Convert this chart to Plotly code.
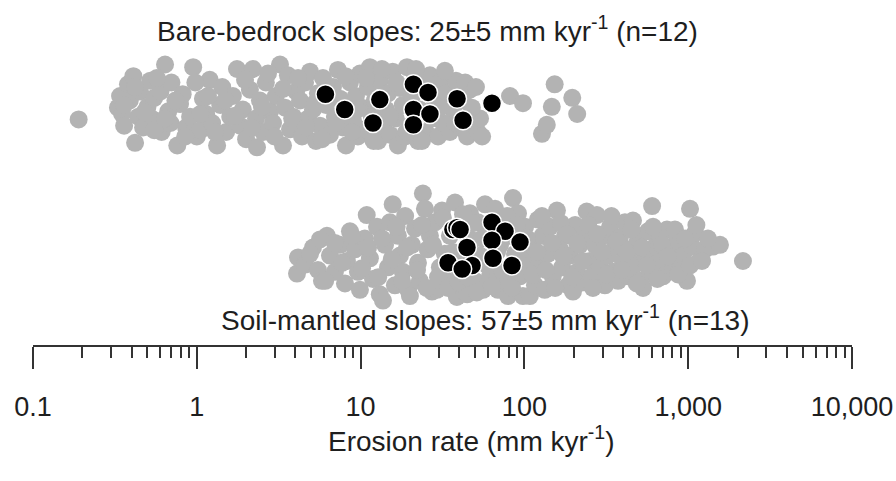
import plotly.graph_objects as go

# ---------------- data (erosion rates in mm/kyr, vertical jitter) ----------------
bare_grey_rate = [0.19, 0.33, 0.34, 0.35, 0.36, 0.38, 0.39, 0.41, 0.42, 0.44, 0.45, 0.47, 0.50, 0.52,
                  0.53, 0.55, 0.60, 0.61, 0.64, 0.67, 0.69, 0.70, 0.76, 0.79, 0.82, 0.86, 0.91, 0.95,
                  1.0, 1.05, 1.09, 1.14, 1.20, 1.24, 1.33, 1.39, 1.43, 1.51, 1.60, 1.66, 1.76, 1.84,
                  1.91, 2.0, 2.11, 2.2, 2.3, 2.33, 2.43, 2.54, 2.64, 2.80, 2.92, 3.04, 3.22, 3.36,
                  3.46, 3.6, 3.71, 3.87, 4.04, 4.27, 4.39, 4.58, 4.78, 4.91, 5.12, 5.34, 5.49, 5.65,
                  5.89, 6.15, 6.50, 6.78, 6.97, 7.27, 7.48, 7.8, 8.14, 8.37, 8.61, 8.98, 9.37, 9.63,
                  9.91, 10.2, 10.6, 11.1, 11.4, 11.7, 12.2, 12.8, 13.1, 13.7, 14.3, 14.7, 15.1, 15.7,
                  16.4, 16.9, 17.4, 18.1, 18.7, 19.2, 20.0, 20.6, 21.5, 22.4, 23.0, 24.0, 25.0, 26.5,
                  27.3, 28.4, 29.7, 30.5, 31.8, 33.6, 35.1, 36.6, 38.2, 40.5, 42.2, 44.7, 46.5, 49.2,
                  52.0, 53.6, 55.2, 81.7, 98, 128, 137, 147, 153, 196, 210,
                  0.36, 0.42, 0.48, 0.55, 0.57, 0.64, 0.74, 0.85, 0.98, 1.05, 1.17, 1.29, 1.49, 1.71,
                  1.97, 2.17, 2.50, 2.72, 2.98, 3.36, 3.82, 4.15, 4.64, 5.27, 5.81, 6.32, 7.07, 8.1,
                  8.86, 9.5, 10.8, 12.0, 13.5, 15.1, 16.6, 19.0, 21.8, 23.7, 30.5, 32.7, 37.7, 43.5,
                  47.8, 50.6]
bare_grey_jitter = [-16, -3, 10, -10, -23, 23, 5, 32, -42, -13, 15, -25, -2, 27,
                    -15, 8, 15, -30, 45, -7, -20, 25, -45, 1, 12, -25, -13, 42,
                    -35, -28, 7, -10, 28, -20, -45, 0, 20, -30, -13, 10, 40, -23,
                    -5, -38, 17, 40, -15, -47, 5, -30, 25, -7, -20, 10, 45, -45,
                    -3, 33, -27, -13, 15, 5, -35, 25, -15, 37, -5, -40, 13, -23,
                    30, 0, -33, 20, -13, 39, 7, -25, -45, -5, 25, -17, 10, -35,
                    35, -3, -27, 20, 42, -13, 5, -40, 27, -23, -5, 13, -33, 37,
                    -15, -45, 19, 0, -35, 42, -23, 10, 30, -40, -5, 17, -30, 33,
                    -15, 5, -35, 25, -20, 13, -30, -5, 27, -25, 5, -35, 17, -13,
                    -30, -15, -35, 10, 2, -32, -22, -2, 23, 8, -10,
                    0, 20, -8, -28, 30, -15, 5, -35, 25, -10, 10, -30, 5, -12,
                    28, -25, -2, 35, -35, 18, -15, 30, -25, 2, -38, 15, -20, 32,
                    -30, -5, 30, -40, 40, -12, 25, -30, 40, -40, -3, 38, -20, 25,
                    -3, 20]
bare_black_rate = [6.1, 8.0, 13.1, 11.9, 21, 25.8, 21, 26.5, 21, 38.8, 42.2, 63.4]
bare_black_jitter = [12, -5, 6, -20, 23, 14, -5, -10, -22, 7, -17, 2]

soil_grey_rate = [4.09, 4.15, 4.58, 5.12, 5.49, 5.81, 6.23, 6.50, 6.97, 7.48, 8.03, 8.25, 8.61, 9.24,
                  9.63, 9.91, 10.6, 10.9, 11.4, 11.9, 12.6, 13.1, 13.7, 14.1, 14.7, 15.1, 15.7, 16.2,
                  16.9, 17.4, 18.1, 18.7, 19.5, 20.0, 20.6, 21.5, 22.4, 23.0, 24.0, 24.7, 25.7, 26.5,
                  27.3, 28.4, 29.2, 30.5, 31.4, 32.7, 33.6, 35.1, 37.7, 38.7, 40.5, 41.7, 43.5, 44.7,
                  46.5, 47.8, 49.9, 52.0, 53.6, 55.9, 57.5, 60.0, 61.7, 66.2, 69.0, 71.0, 74.1, 76.2,
                  79.4, 81.7, 85.2, 87.7, 91.4, 94.0, 98.0, 101, 105, 108, 111, 116, 121, 124,
                  129, 133, 139, 143, 149, 158, 165, 170, 177, 185, 190, 198, 204, 210,
                  218, 224, 234, 240, 251, 258, 269, 277, 289, 301, 310, 323, 333, 347,
                  357, 373, 383, 399, 411, 429, 441, 460, 473, 493, 508, 530, 545, 568,
                  585, 602, 628, 655, 673, 702, 742, 774, 807, 854, 891, 929, 983, 1026,
                  1056, 1101, 1180, 1266, 1416, 1563, 2159,
                  4.91, 5.65, 6.08, 6.97, 7.7, 8.86, 10.2, 11.1, 12.8, 13.5, 15.5, 16.6, 17.9, 19.2,
                  22.1, 23.7, 25.3, 27.7, 29.7, 31.8, 34.2, 36.6, 39.4, 42.2, 45.2, 48.5, 51.2, 55.2,
                  59.4, 63.4, 68.0, 73.1, 78.4, 84.0, 89.7, 96.5, 104, 112, 119, 128, 135, 147,
                  154, 167, 173, 182, 196, 210, 227, 245, 262, 277, 297, 317, 340, 366,
                  394, 420, 450, 485, 522, 560, 610, 648, 692, 752, 830, 867, 957, 1026,
                  1122, 1214, 1320]
soil_grey_jitter = [-24, -6, -14, 5, -20, -32, 18, -4, -22, 8, -35, -10, 23, 3,
                    -22, -42, 15, 41, -7, -30, 28, -47, -54, 8, -17, 33, 53, -37,
                    18, -4, -22, 40, -42, -49, 8, 26, -12, -32, 65, 48, 3, 18,
                    -44, 33, -42, -17, 46, -2, -32, 18, 55, -50, -22, -4, -37, -47,
                    43, 13, -32, 33, -4, -42, 53, 23, -27, 48, -42, 8, 33, -32,
                    -49, 18, 60, -2, 43, -27, -49, 28, -7, -49, 8, -37, 36, -12,
                    18, -42, -2, 28, -27, 46, 3, -17, 18, -37, -4, -44, 30, -22,
                    8, -34, 20, 45, -10, -27, 8, 41, -17, 18, -37, -4, 28, -22,
                    6, -32, 16, -10, 33, -27, 3, 35, -14, 13, -32, -40, -4, 23,
                    -22, 51, 6, -12, 18, -27, 25, 0, -17, 13, -12, -4, -32, 48,
                    6, 21, -9, 3, 6, 8, -10,
                    -2, 14, -32, 10, -12, 18, -18, 5, -28, 15, -8, 28, -32, 5,
                    -20, 30, -40, 8, -28, 38, -40, 0, -33, 42, -28, 32, -45, 15,
                    -15, -38, 0, -20, 40, -40, 30, -15, 15, -25, 0, 40, -20, 10,
                    -40, 32, -5, 20, -28, 10, -10, 30, -40, 20, 0, -25, 40, 12,
                    -20, 0, 25, -35, 5, -15, 28, -30, 8, -5, 25, -25, 15, -15,
                    30, -10, 15]
soil_black_rate = [36.6, 38.7, 40.5, 44.6, 34.2, 47.9, 41.7, 63.4, 76.2, 94.0, 63.4, 64.3, 84.0]
soil_black_jitter = [25, 27, 25, 5, -12, -15, -19, 33, 23, 11, 13, -7, -15]

tick_values = [0.1, 1, 10, 100, 1000, 10000]
tick_labels = ["0.1", "1", "10", "100", "1,000", "10,000"]

bare_label = "Bare-bedrock slopes: 25±5 mm kyr<sup>-1</sup> (n=12)"
soil_label = "Soil-mantled slopes: 57±5 mm kyr<sup>-1</sup> (n=13)"
axis_label = "Erosion rate (mm kyr<sup>-1</sup>)"

# ---------------- layout constants ----------------
W, H = 896, 481
ML, MR, MT, MB = 33, 44, 0, 136
PLOT_H = H - MT - MB                  # 345 px
PX_PER_UNIT = 0.9                     # vertical jitter units -> pixels
SOIL_PX = 252                         # pixel row of soil-mantled group centre
BARE_PX = 105                         # pixel row of bare-bedrock group centre
ROW_SOIL = 0.0
ROW_BARE = (SOIL_PX - BARE_PX) / PX_PER_UNIT
Y_RANGE = [-(PLOT_H - SOIL_PX) / PX_PER_UNIT, SOIL_PX / PX_PER_UNIT]
FONT = "Liberation Sans, Arial, sans-serif"
TXT = "#1e1e1e"
AX = "#333333"
GREY = "#b3b3b3"

minor_ticks = [m * 10.0 ** e for e in range(-1, 4) for m in range(2, 10)]


def px_x(px):
    return (px - ML) / (W - ML - MR)


def px_y(py):
    return (H - MB - py) / (H - MB - MT)


fig = go.Figure()
fig.add_trace(go.Scatter(x=bare_grey_rate, y=[ROW_BARE + j for j in bare_grey_jitter], mode="markers",
                         marker=dict(size=18, color=GREY, line=dict(width=0)), hoverinfo="skip"))
fig.add_trace(go.Scatter(x=soil_grey_rate, y=[ROW_SOIL + j for j in soil_grey_jitter], mode="markers",
                         marker=dict(size=18, color=GREY, line=dict(width=0)), hoverinfo="skip"))
fig.add_trace(go.Scatter(x=bare_black_rate, y=[ROW_BARE + j for j in bare_black_jitter], mode="markers",
                         marker=dict(size=19, color="black", line=dict(width=1.5, color="white"))))
fig.add_trace(go.Scatter(x=soil_black_rate, y=[ROW_SOIL + j for j in soil_black_jitter], mode="markers",
                         marker=dict(size=19, color="black", line=dict(width=1.5, color="white"))))

fig.update_layout(
    width=W, height=H,
    margin=dict(l=ML, r=MR, t=MT, b=MB, pad=0, autoexpand=False),
    paper_bgcolor="white", plot_bgcolor="white",
    showlegend=False,
    font=dict(family=FONT, size=28, color=TXT),
    xaxis=dict(type="log", range=[-1, 4], showgrid=False, zeroline=False,
               showline=True, linecolor=AX, linewidth=2,
               tickmode="array", tickvals=tick_values, ticktext=tick_labels,
               ticks="outside", ticklen=22, tickwidth=2, tickcolor=AX,
               tickfont=dict(family=FONT, size=27, color=TXT), ticklabelstandoff=15,
               minor=dict(tickmode="array", tickvals=minor_ticks, ticks="outside",
                          ticklen=11, tickwidth=2, tickcolor=AX, showgrid=False)),
    yaxis=dict(visible=False, range=Y_RANGE, fixedrange=True),
    annotations=[
        dict(text=bare_label, xref="paper", yref="paper", x=px_x(427), y=px_y(29),
             showarrow=False, xanchor="center", yanchor="middle", font=dict(size=28)),
        dict(text=soil_label, xref="paper", yref="paper", x=px_x(485), y=px_y(318),
             showarrow=False, xanchor="center", yanchor="middle", font=dict(size=28)),
        dict(text=axis_label, xref="paper", yref="paper", x=px_x(471), y=px_y(439),
             showarrow=False, xanchor="center", yanchor="middle", font=dict(size=28)),
    ],
)

# remove the browser's default 8px page margin so the figure fills the window exactly
fig.write_html("out.html", config={"displayModeBar": False},
               post_script="document.body.style.margin='0';")
